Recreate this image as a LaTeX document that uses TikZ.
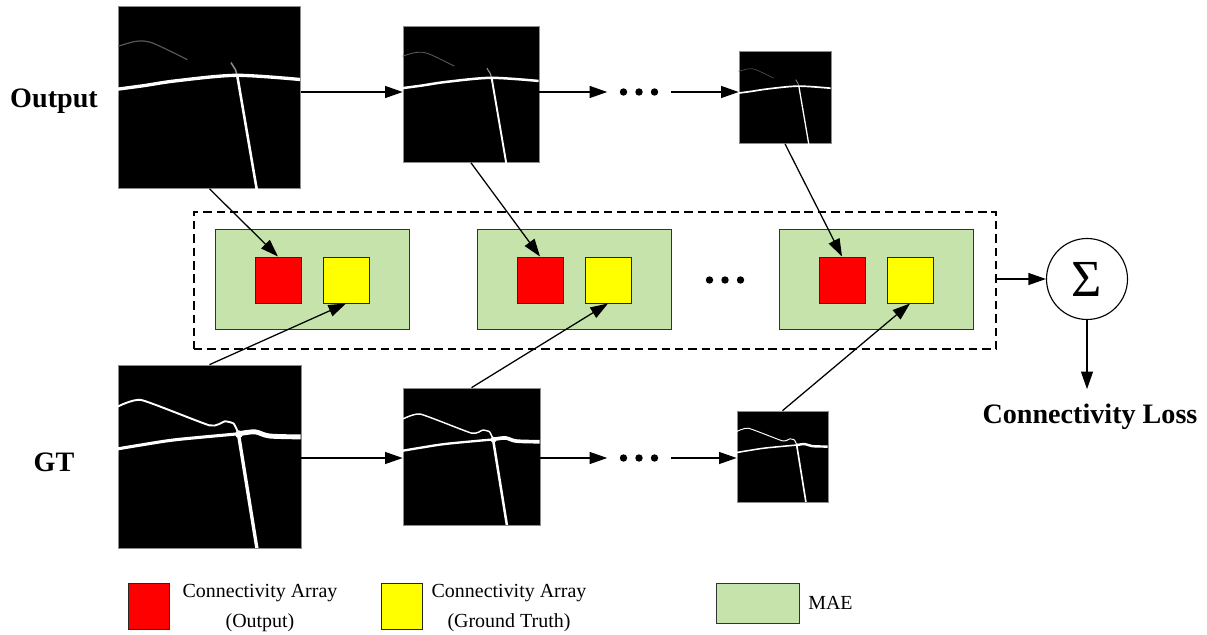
\documentclass[tikz,border=0pt]{standalone}
\usepackage{fontspec}
\setmainfont{Liberation Serif}
\usepackage{tikz}
\usetikzlibrary{arrows.meta,positioning,calc}
\definecolor{VerdeMAE}{HTML}{C5E3AA}
\definecolor{Rojo}{HTML}{FF0000}
\definecolor{Amarillo}{HTML}{FFFF00}
\newcommand{\px}{0.025cm}
% vasos de la salida, en el cuadro del nodo #1 (lado #2 px)
\newcommand{\vasosalida}[2]{%
  \begin{scope}[shift={(#1.north west)}, scale=#2]
    \clip (0,0) rectangle (1,1);
    \draw[black!65, line width={0.0045*#2pt}]
      plot[smooth] coordinates {(-0.01,0.224) (0.1,0.193) (0.19,0.203) (0.38,0.294)};
    \draw[black!45, line width={0.006*#2pt}] (0.62,0.31) -- (0.645,0.35) -- (0.655,0.385);
    \draw[white, line width={0.01*#2pt}] (0.655,0.385) -- (0.762,1.01);
    \draw[white, line width={0.013*#2pt}]
      plot[smooth] coordinates {(-0.01,0.457) (0.14,0.437) (0.32,0.41) (0.65,0.38) (1.01,0.404)};
  \end{scope}}
% vasos del GT
\newcommand{\vasosreal}[2]{%
  \begin{scope}[shift={(#1.north west)}, scale=#2]
    \clip (0,0) rectangle (1,1);
    \draw[white, line width={0.0075*#2pt}, line join=round]
      plot[smooth, tension=0.3] coordinates {(-0.01,0.234) (0.128,0.193) (0.503,0.332)
        (0.585,0.31) (0.634,0.322) (0.66,0.375)};
    \draw[white, line width={0.012*#2pt}]
      plot[smooth] coordinates {(-0.01,0.462) (0.14,0.437) (0.32,0.41) (0.66,0.378)};
    \draw[white, line width={0.019*#2pt}]
      plot[smooth] coordinates {(0.66,0.378) (0.75,0.367) (0.83,0.39) (1.01,0.395)};
    \draw[white, line width={0.013*#2pt}] (0.66,0.378) -- (0.762,1.01);
    \fill[white] (0.663,0.38) circle (0.021);
  \end{scope}}
\tikzset{
  imagen/.style  = {draw=black!45, fill=black, inner sep=0pt, line width=0.5pt},
  mae/.style     = {draw=black!80, fill=VerdeMAE, minimum width=194*\px,
                    minimum height=100*\px, inner sep=0pt, line width=0.7pt},
  arreglo/.style = {draw=black!85, minimum size=46*\px, inner sep=0pt, line width=0.7pt},
  flecha/.style  = {-{Triangle[length=12.5pt,width=8.5pt]}, line width=0.9pt},
  marco/.style   = {draw, dash pattern=on 6pt off 3.5pt, line width=0.8pt, inner sep=0pt},
  titulo/.style  = {font=\bfseries\fontsize{20}{24}\selectfont, inner sep=0pt},
  leyenda/.style = {font=\fontsize{14.2}{21.3}\selectfont, align=center, inner sep=0pt},
  puntos/.style  = {minimum width=63*\px, minimum height=10*\px, inner sep=0pt},
}
\begin{document}
\begin{tikzpicture}[x=\px, y=-\px]
  \useasboundingbox (0,0) rectangle (1207,635);
  % imagenes
  \node[imagen, minimum size=182*\px] (o1) at (209.5,97.5) {};
  \node[imagen, minimum size=136*\px] (o2) at (471,94.5) {};
  \node[imagen, minimum size=92*\px]  (o3) at (785,97.5) {};
  \node[imagen, minimum size=183*\px] (g1) at (209.5,456.5) {};
  \node[imagen, minimum size=137*\px] (g2) at (471.5,456.5) {};
  \node[imagen, minimum size=91*\px]  (g3) at (782.5,456.5) {};
  \vasosalida{o1}{182} \vasosalida{o2}{136} \vasosalida{o3}{92}
  \vasosreal{g1}{183} \vasosreal{g2}{137} \vasosreal{g3}{91}
  \node[titulo, anchor=base] (salida) at (54,108) {Output};
  \node[titulo, anchor=base] (gt) at (54,471) {GT};
  % marco y MAE
  \node[marco, minimum width=802*\px, minimum height=137*\px] (marco) at (595,280.5) {};
  \foreach \i/\x in {1/312, 2/574, 3/876} {
    \node[mae] (m\i) at (\x,279) {};
    \node[arreglo, fill=Rojo] (r\i) at (\x-34,280) {};
    \node[arreglo, fill=Amarillo] (y\i) at (\x+34,280) {};
  }
  % puntos
  \node[puntos] (puntos1) at (639,92) {};
  \node[puntos] (puntos2) at (639,458) {};
  \node[puntos] (puntosm) at (725,280) {};
  \foreach \p in {puntos1, puntos2, puntosm}
    \foreach \d in {-15.5, 0, 15.5}
      \fill (\p) ++(\d,0) circle (3.7);
  % flechas
  \draw[flecha] (o1.east |- puntos1) -- (o2.west |- puntos1);
  \draw[flecha] (o2.east |- puntos1) -- (puntos1.west);
  \draw[flecha] (puntos1.east) -- (o3.west |- puntos1);
  \draw[flecha] (g1.east |- puntos2) -- (g2.west |- puntos2);
  \draw[flecha] (g2.east |- puntos2) -- (puntos2.west);
  \draw[flecha] (puntos2.east) -- (g3.west |- puntos2);
  \foreach \i in {1,2,3} {
    \draw[flecha] (o\i.south) -- (r\i.north);
    \draw[flecha] (g\i.north) -- (y\i.south);
  }
  % suma
  \node[draw, circle, minimum size=81*\px, inner sep=0pt, line width=0.8pt,
        font=\fontsize{37}{40}\selectfont] (suma) at (1087,279) {Σ};
  \node[titulo, anchor=base, inner ysep=10pt] (perdida) at (1090,423) {Connectivity Loss};
  \draw[flecha] (marco.east |- suma) -- (suma.west);
  \draw[flecha] (suma.south) -- (suma.south |- perdida.north);
  % leyenda
  \node[arreglo, fill=Rojo, minimum width=41*\px, minimum height=46*\px] (leyrojo) at (148.5,606) {};
  \node[leyenda] (txtrojo) at (260,608) {Connectivity Array\\(Output)};
  \node[arreglo, fill=Amarillo, minimum width=41*\px, minimum height=46*\px] (leyamar) at (401.5,606) {};
  \node[leyenda] (txtamar) at (509,608) {Connectivity Array\\(Ground Truth)};
  \node[mae, minimum width=83*\px, minimum height=40*\px] (leyverde) at (757.5,603) {};
  \node[leyenda, anchor=west] (txtverde) at (808,603) {MAE};
\end{tikzpicture}
\end{document}
